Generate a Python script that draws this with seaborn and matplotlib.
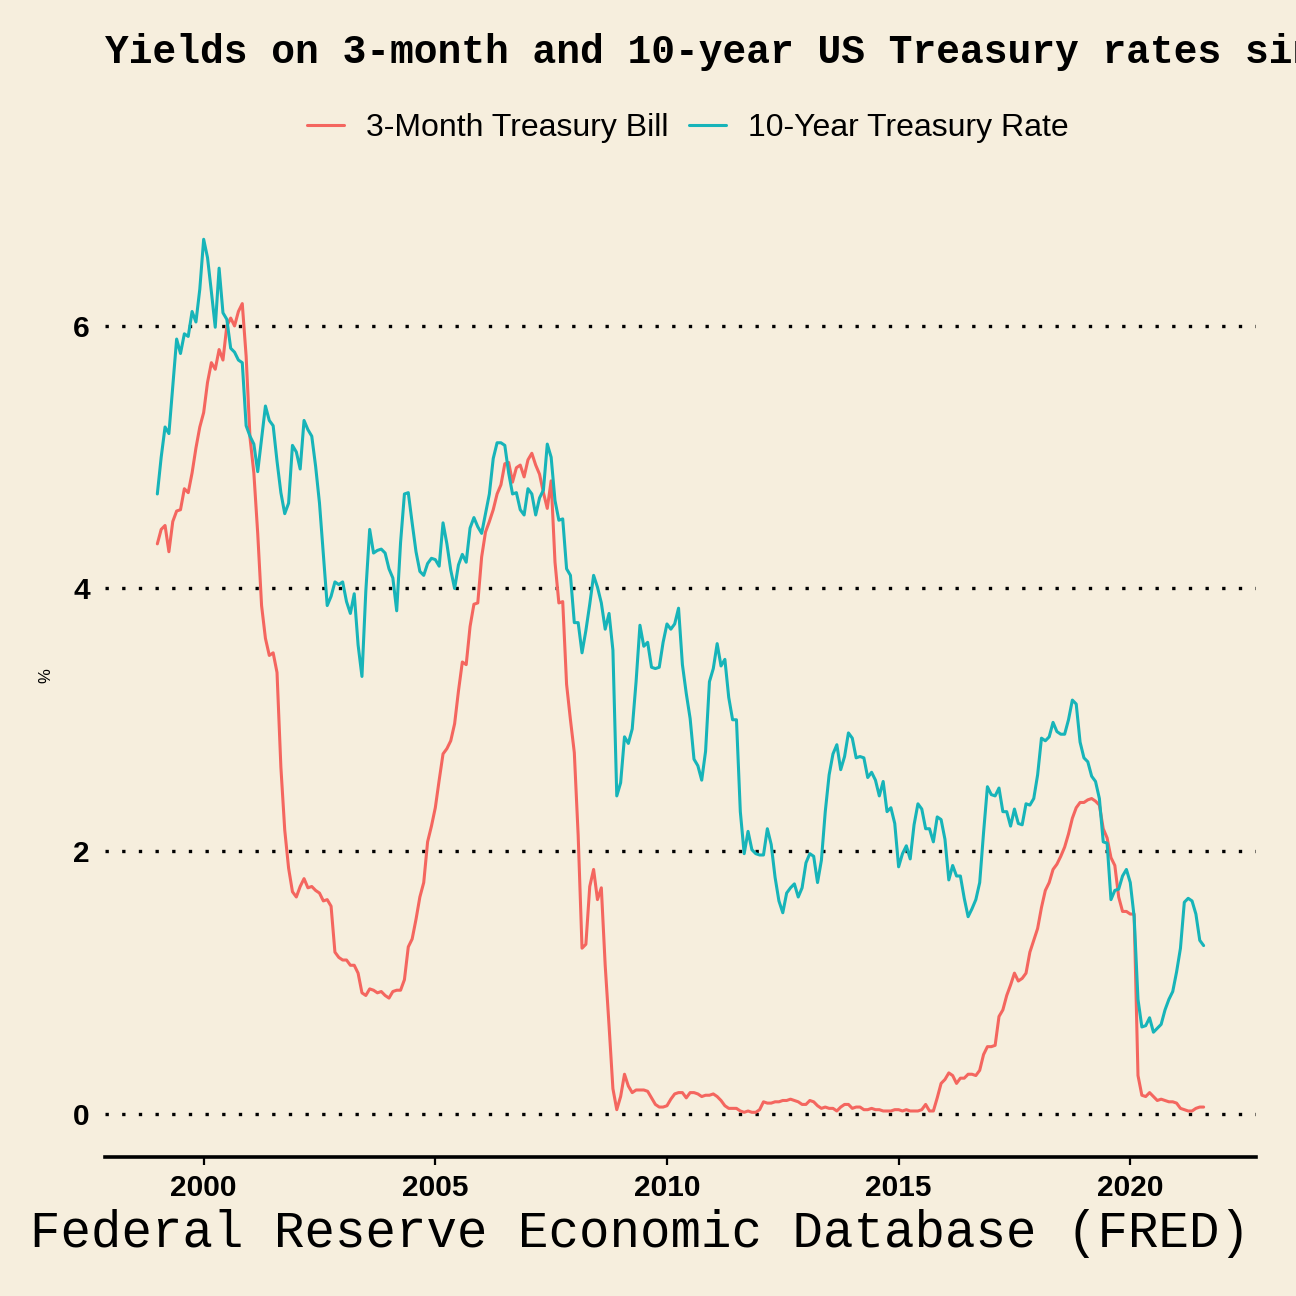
import seaborn as sns
import matplotlib.pyplot as plt
import pandas as pd
import numpy as np

# monthly averages, Jan 1999 - Aug 2021 (FRED TB3MS / GS10)
tb3ms = [
    4.34, 4.45, 4.48, 4.28, 4.51, 4.59, 4.60, 4.76, 4.73, 4.88, 5.07, 5.23,
    5.34, 5.57, 5.72, 5.67, 5.82, 5.74, 6.00, 6.06, 6.00, 6.11, 6.17, 5.77,
    5.15, 4.88, 4.42, 3.87, 3.62, 3.49, 3.51, 3.36, 2.64, 2.16, 1.87, 1.69,
    1.65, 1.73, 1.79, 1.72, 1.73, 1.70, 1.68, 1.62, 1.63, 1.58, 1.23, 1.19,
    1.17, 1.17, 1.13, 1.13, 1.07, 0.92, 0.90, 0.95, 0.94, 0.92, 0.93, 0.90,
    0.88, 0.93, 0.94, 0.94, 1.02, 1.27, 1.33, 1.48, 1.65, 1.76, 2.07, 2.19,
    2.33, 2.54, 2.74, 2.78, 2.84, 2.97, 3.22, 3.44, 3.42, 3.71, 3.88, 3.89,
    4.24, 4.43, 4.51, 4.60, 4.72, 4.79, 4.95, 4.96, 4.81, 4.92, 4.94, 4.85,
    4.98, 5.03, 4.94, 4.87, 4.73, 4.61, 4.82, 4.20, 3.89, 3.90, 3.27, 3.00,
    2.75, 2.12, 1.26, 1.29, 1.73, 1.86, 1.63, 1.72, 1.13, 0.67, 0.19, 0.03,
    0.13, 0.30, 0.21, 0.16, 0.18, 0.18, 0.18, 0.17, 0.12, 0.07, 0.05, 0.05,
    0.06, 0.11, 0.15, 0.16, 0.16, 0.12, 0.16, 0.16, 0.15, 0.13, 0.14, 0.14,
    0.15, 0.13, 0.10, 0.06, 0.04, 0.04, 0.04, 0.02, 0.01, 0.02, 0.01, 0.01,
    0.03, 0.09, 0.08, 0.08, 0.09, 0.09, 0.10, 0.10, 0.11, 0.10, 0.09, 0.07,
    0.07, 0.10, 0.09, 0.06, 0.04, 0.05, 0.04, 0.04, 0.02, 0.05, 0.07, 0.07,
    0.04, 0.05, 0.05, 0.03, 0.03, 0.04, 0.03, 0.03, 0.02, 0.02, 0.02, 0.03,
    0.03, 0.02, 0.03, 0.02, 0.02, 0.02, 0.03, 0.07, 0.02, 0.02, 0.12, 0.23,
    0.26, 0.31, 0.29, 0.23, 0.27, 0.27, 0.30, 0.30, 0.29, 0.33, 0.45, 0.51,
    0.51, 0.52, 0.74, 0.79, 0.90, 0.98, 1.07, 1.01, 1.03, 1.07, 1.23, 1.32,
    1.41, 1.57, 1.70, 1.76, 1.86, 1.90, 1.96, 2.03, 2.13, 2.25, 2.33, 2.37,
    2.37, 2.39, 2.40, 2.38, 2.35, 2.17, 2.10, 1.95, 1.89, 1.65, 1.54, 1.54,
    1.52, 1.52, 0.29, 0.14, 0.13, 0.16, 0.13, 0.10, 0.11, 0.10, 0.09, 0.09,
    0.08, 0.04, 0.03, 0.02, 0.02, 0.04, 0.05, 0.05,
]
gs10 = [
    4.72, 5.00, 5.23, 5.18, 5.54, 5.90, 5.79, 5.94, 5.92, 6.11, 6.03, 6.28,
    6.66, 6.52, 6.26, 5.99, 6.44, 6.10, 6.05, 5.83, 5.80, 5.74, 5.72, 5.24,
    5.16, 5.10, 4.89, 5.14, 5.39, 5.28, 5.24, 4.97, 4.73, 4.57, 4.65, 5.09,
    5.04, 4.91, 5.28, 5.21, 5.16, 4.93, 4.65, 4.26, 3.87, 3.94, 4.05, 4.03,
    4.05, 3.90, 3.81, 3.96, 3.57, 3.33, 3.98, 4.45, 4.27, 4.29, 4.30, 4.27,
    4.15, 4.08, 3.83, 4.35, 4.72, 4.73, 4.50, 4.28, 4.13, 4.10, 4.19, 4.23,
    4.22, 4.17, 4.50, 4.34, 4.14, 4.00, 4.18, 4.26, 4.20, 4.46, 4.54, 4.47,
    4.42, 4.57, 4.72, 4.99, 5.11, 5.11, 5.09, 4.88, 4.72, 4.73, 4.60, 4.56,
    4.76, 4.72, 4.56, 4.69, 4.75, 5.10, 5.00, 4.67, 4.52, 4.53, 4.15, 4.10,
    3.74, 3.74, 3.51, 3.68, 3.88, 4.10, 4.01, 3.89, 3.69, 3.81, 3.53, 2.42,
    2.52, 2.87, 2.82, 2.93, 3.29, 3.72, 3.56, 3.59, 3.40, 3.39, 3.40, 3.59,
    3.73, 3.69, 3.73, 3.85, 3.42, 3.20, 3.01, 2.70, 2.65, 2.54, 2.76, 3.29,
    3.39, 3.58, 3.41, 3.46, 3.17, 3.00, 3.00, 2.30, 1.98, 2.15, 2.01, 1.98,
    1.97, 1.97, 2.17, 2.05, 1.80, 1.62, 1.53, 1.68, 1.72, 1.75, 1.65, 1.72,
    1.91, 1.98, 1.96, 1.76, 1.93, 2.30, 2.58, 2.74, 2.81, 2.62, 2.72, 2.90,
    2.86, 2.71, 2.72, 2.71, 2.56, 2.60, 2.54, 2.42, 2.53, 2.30, 2.33, 2.21,
    1.88, 1.98, 2.04, 1.94, 2.20, 2.36, 2.32, 2.17, 2.17, 2.07, 2.26, 2.24,
    2.09, 1.78, 1.89, 1.81, 1.81, 1.64, 1.50, 1.56, 1.63, 1.76, 2.14, 2.49,
    2.43, 2.42, 2.48, 2.30, 2.30, 2.19, 2.32, 2.21, 2.20, 2.36, 2.35, 2.40,
    2.58, 2.86, 2.84, 2.87, 2.98, 2.91, 2.89, 2.89, 3.00, 3.15, 3.12, 2.83,
    2.71, 2.68, 2.57, 2.53, 2.40, 2.07, 2.06, 1.63, 1.70, 1.71, 1.81, 1.86,
    1.76, 1.50, 0.87, 0.66, 0.67, 0.73, 0.62, 0.65, 0.68, 0.79, 0.87, 0.93,
    1.08, 1.26, 1.61, 1.64, 1.62, 1.52, 1.32, 1.28,
]
series_names = ["3-Month Treasury Bill", "10-Year Treasury Rate"]
start_year = 1999

n = len(tb3ms)
t = start_year + np.arange(n) / 12.0
df = pd.DataFrame({
    "date": np.concatenate([t, t]),
    "rate": tb3ms + gs10,
    "series": [series_names[0]] * n + [series_names[1]] * n,
})

bg = "#f6eedd"
sns.set_theme(style="white", rc={"figure.facecolor": bg, "axes.facecolor": bg,
                                 "text.color": "black", "xtick.color": "black",
                                 "ytick.color": "black", "axes.labelcolor": "black"})
plt.rcParams["font.family"] = ["Liberation Sans", "DejaVu Sans"]

fig = plt.figure(figsize=(12.96, 12.96), dpi=100)
ax = fig.add_axes([0.081, 0.1073, 0.888, 0.7415])

sns.lineplot(data=df, x="date", y="rate", hue="series", hue_order=series_names,
             palette=["#F4665F", "#17B4B9"], linewidth=2.2, ax=ax, legend=True)

ax.set_xlim(1997.87, 2022.71)
ax.set_ylim(-0.33, 6.99)
ax.set_xticks([2000, 2005, 2010, 2015, 2020])
ax.set_yticks([0, 2, 4, 6])
ax.yaxis.grid(True, color="black", linestyle=(0, (1, 4)), linewidth=2.4)
ax.xaxis.grid(False)
for s in ["top", "right", "left"]:
    ax.spines[s].set_visible(False)
ax.spines["bottom"].set_color("black")
ax.spines["bottom"].set_linewidth(2.6)
ax.tick_params(axis="x", bottom=True, length=6, width=1.6, color="black",
               pad=6, labelsize=21.5)
ax.tick_params(axis="y", left=False, pad=5, labelsize=21.5)
for lab in ax.get_xticklabels() + ax.get_yticklabels():
    lab.set_fontweight("bold")
ax.set_xlabel("")
ax.set_ylabel("")

handles, labels = ax.get_legend_handles_labels()
ax.get_legend().remove()
fig.legend(handles, labels, loc="center", bbox_to_anchor=(688 / 1296, 1 - 128 / 1296),
           ncol=2, frameon=False, fontsize=23, handlelength=1.15,
           handletextpad=0.7, columnspacing=0.65)

fig.text(105 / 1296, 1 - 63 / 1296,
         "Yields on 3-month and 10-year US Treasury rates since 1999",
         family="Liberation Mono", fontweight="bold", fontsize=28.5,
         ha="left", va="baseline")
fig.text(640 / 1296, 1 - 1247 / 1296, "Federal Reserve Economic Database (FRED)",
         family="Liberation Mono", fontsize=36.5, ha="center", va="baseline")
fig.text(46 / 1296, 1 - 676 / 1296, "%", fontsize=12, rotation=90,
         ha="center", va="center")

fig.savefig("out.png", dpi=100, facecolor=bg)
